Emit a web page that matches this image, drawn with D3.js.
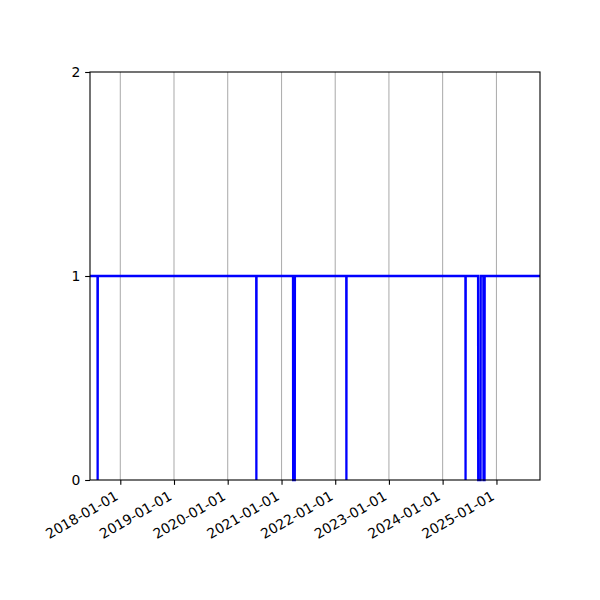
<!DOCTYPE html>
<html>
<head>
<meta charset="utf-8">
<script src="https://cdn.jsdelivr.net/npm/d3@7"></script>
<style>
  html, body { margin: 0; padding: 0; background: #fff; }
  svg { display: block; }
  text { font-family: "DejaVu Sans", sans-serif; }
</style>
</head>
<body>
<svg id="chart" width="600" height="600"></svg>
<script>
// status series: 1 = up, 0 = down (change points)
const dates = [
  "2017-06-09",
  "2017-07-30", "2017-07-31", "2017-08-01",
  "2020-07-13", "2020-07-14", "2020-07-15",
  "2021-03-20", "2021-03-21", "2021-04-01", "2021-04-02",
  "2022-03-17", "2022-03-18", "2022-03-19",
  "2024-06-04", "2024-06-05", "2024-06-06",
  "2024-08-29", "2024-08-30", "2024-09-15", "2024-09-16",
  "2024-10-04", "2024-10-05", "2024-10-12", "2024-10-13",
  "2025-10-24"
];
const values = [
  1,
  1, 0, 1,
  1, 0, 1,
  1, 0, 0, 1,
  1, 0, 1,
  1, 0, 1,
  1, 0, 0, 1,
  1, 0, 0, 1,
  1
];
const xTickLabels = ["2018-01-01", "2019-01-01", "2020-01-01", "2021-01-01",
                     "2022-01-01", "2023-01-01", "2024-01-01", "2025-01-01"];
const yTicks = [0, 1, 2];
const xRange = ["2017-06-09", "2025-10-24"];

(function () {
  const parse = d3.timeParse("%Y-%m-%d");
  const svg = d3.select("#chart");

  // matplotlib-like axes box: left .15, right .9, bottom .2, top .88
  const L = 90, R = 540, T = 72, B = 480;
  const FS = 13.9, tickLen = 4.86, pad = 4.86;

  const data = dates.map((d, i) => ({ t: parse(d), v: values[i] }));

  const x = d3.scaleTime().domain(xRange.map(parse)).range([L, R]);
  const y = d3.scaleLinear().domain([0, 2]).range([B, T]);

  // vertical grid at year ticks
  const xt = xTickLabels.map(parse);
  svg.append("g")
    .selectAll("line")
    .data(xt)
    .join("line")
    .attr("x1", d => x(d)).attr("x2", d => x(d))
    .attr("y1", T).attr("y2", B)
    .attr("stroke", "#b0b0b0")
    .attr("stroke-width", 1.1);

  svg.append("clipPath").attr("id", "clip")
    .append("rect").attr("x", L).attr("y", T - 2).attr("width", R - L).attr("height", B - T + 4);

  const line = d3.line().x(d => x(d.t)).y(d => y(d.v));
  svg.append("path")
    .datum(data)
    .attr("clip-path", "url(#clip)")
    .attr("d", line)
    .attr("fill", "none")
    .attr("stroke", "#0000ff")
    .attr("stroke-width", 2.3)
    .attr("stroke-linejoin", "miter");

  // frame
  svg.append("rect")
    .attr("x", L).attr("y", T).attr("width", R - L).attr("height", B - T)
    .attr("fill", "none").attr("stroke", "#000").attr("stroke-width", 1.1);

  // x axis
  const gx = svg.append("g")
    .attr("transform", `translate(0,${B})`)
    .call(d3.axisBottom(x).tickValues(xt).tickSize(tickLen).tickFormat(d3.timeFormat("%Y-%m-%d")));
  gx.select(".domain").remove();
  gx.selectAll(".tick line").attr("stroke", "#000").attr("stroke-width", 1.1);
  gx.selectAll(".tick text")
    .attr("x", null).attr("y", null).attr("dy", null)
    .attr("font-size", FS)
    .attr("fill", "#000")
    .attr("text-anchor", "end")
    .attr("transform", `translate(-1.6,${tickLen + pad + 9.2}) rotate(-30)`);

  // y axis
  const gy = svg.append("g")
    .attr("transform", `translate(${L},0)`)
    .call(d3.axisLeft(y).tickValues(yTicks).tickSize(tickLen).tickPadding(pad).tickFormat(d3.format("d")));
  gy.select(".domain").remove();
  gy.selectAll(".tick line").attr("stroke", "#000").attr("stroke-width", 1.1);
  gy.selectAll(".tick text").attr("font-size", FS).attr("fill", "#000");
})();
</script>
</body>
</html>
